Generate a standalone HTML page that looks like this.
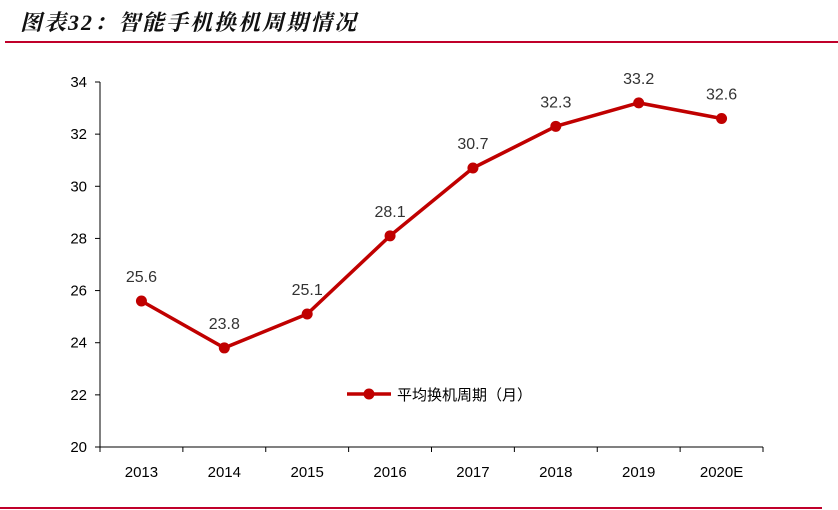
<!DOCTYPE html>
<html><head><meta charset="utf-8"><style>
body{margin:0;background:#fff;width:838px;height:510px;overflow:hidden;font-family:"Liberation Sans","Noto Sans CJK SC",sans-serif}
</style></head><body>
<div style="position:absolute;left:20px;top:6px;font-size:22px;letter-spacing:2px;font-weight:bold;font-style:italic;font-family:'Liberation Serif','Noto Serif CJK SC',serif;color:#111">图表32：智能手机换机周期情况</div>
<div style="position:absolute;left:5px;top:41px;width:833px;height:2px;background:#c0002a"></div>
<div style="position:absolute;left:0;top:507px;width:822px;height:2px;background:#c0002a"></div>
<svg id="c" width="838" height="510" style="position:absolute;left:0;top:0"></svg>
<script>
const categories=["2013","2014","2015","2016","2017","2018","2019","2020E"];
const values=[25.6,23.8,25.1,28.1,30.7,32.3,33.2,32.6];
const yTicks=[20,22,24,26,28,30,32,34];
const svg=document.getElementById('c');
const NS='http://www.w3.org/2000/svg';
const x0=100,x1=763,yB=447,yT=82,ymin=20,ymax=34;
const step=(x1-x0)/categories.length;
const X=i=>x0+step*(i+0.5);
const Y=v=>yB-(v-ymin)/(ymax-ymin)*(yB-yT);
function mk(t,a,p){const e=document.createElementNS(NS,t);for(const k in a)e.setAttribute(k,a[k]);(p||svg).appendChild(e);return e;}
const ax=mk('path',{d:`M${x0} ${yT}V${yB}H${x1}`,stroke:'#000',fill:'none','stroke-width':1});


yTicks.forEach(t=>{
 const l=mk('line',{x1:x0-5,x2:x0,y1:Y(t),y2:Y(t),stroke:'#000'});
 
 
 const tx=mk('text',{x:87,y:Y(t)+5,'text-anchor':'end','font-size':15,fill:'#000'});
 tx.textContent=t;
 
 
});
for(let i=0;i<=categories.length;i++){
 const l=mk('line',{x1:x0+step*i,x2:x0+step*i,y1:yB,y2:yB+5,stroke:'#000'});
 
 
}
categories.forEach((c,i)=>{
 const tx=mk('text',{x:X(i),y:yB+30,'text-anchor':'middle','font-size':15,fill:'#000'});
 tx.textContent=c;
 
 
});
const ln=mk('polyline',{points:values.map((v,i)=>X(i)+','+Y(v)).join(' '),fill:'none',stroke:'#c00000','stroke-width':3.5});


values.forEach((v,i)=>{
 const p=mk('circle',{cx:X(i),cy:Y(v),r:5.5,fill:'#c00000'});
 
 
 const t=mk('text',{x:X(i),y:Y(v)-19,'text-anchor':'middle','font-size':16,fill:'#333'});
 t.textContent=v.toFixed(1);
 
 
});
const lg=mk('g',{});


mk('line',{x1:347,x2:391,y1:394,y2:394,stroke:'#c00000','stroke-width':3.5},lg);
mk('circle',{cx:369,cy:394,r:5.5,fill:'#c00000'},lg);
const lt=mk('text',{x:397,y:400,'font-size':15,fill:'#000'},lg);
lt.textContent='平均换机周期（月）';
</script>
</body></html>
